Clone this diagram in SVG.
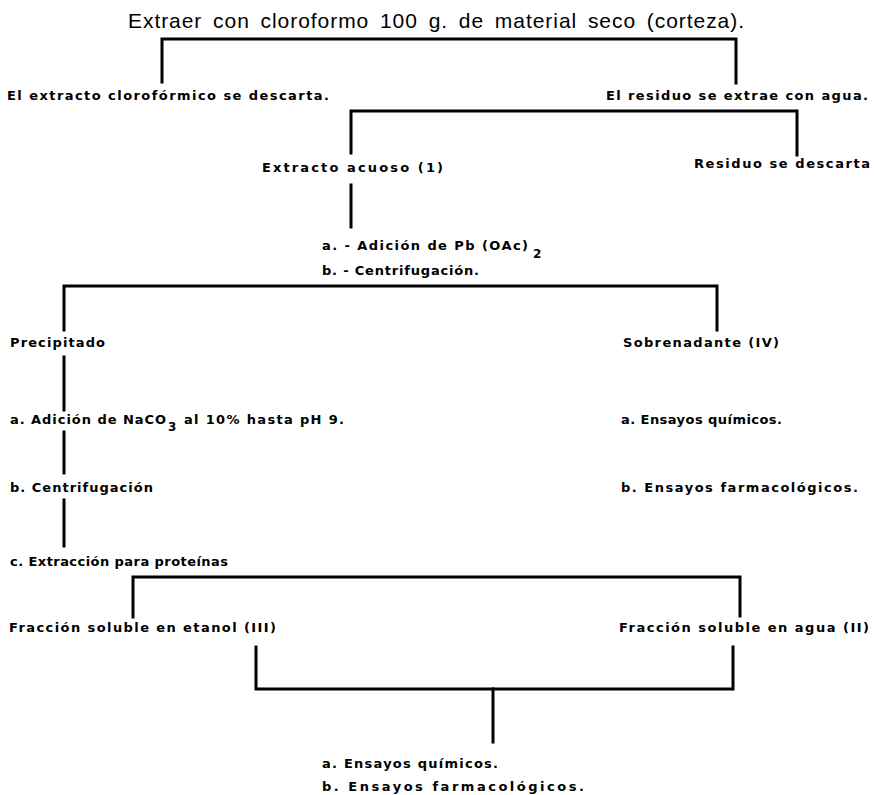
<svg xmlns="http://www.w3.org/2000/svg" width="874" height="795" viewBox="0 0 874 795">
<style>
.t{font-family:"DejaVu Sans","Liberation Sans",sans-serif;font-size:13px;font-weight:bold;fill:#000}
.title{font-family:"Liberation Sans",Arial,sans-serif;font-size:21px;word-spacing:4px;fill:#000}
.sub{font-family:"DejaVu Sans","Liberation Sans",sans-serif;font-size:12px;font-weight:bold;fill:#000}
.c{fill:none;stroke:#000;stroke-width:3;stroke-linecap:square;stroke-linejoin:miter}
</style>
<rect width="874" height="795" fill="#fff"/>
<g id="connectors">
<path class="c" d="M162,82 V39 H736 V83"/>
<path class="c" d="M351,153 V111 H797 V155"/>
<path class="c" d="M351,185 V227"/>
<path class="c" d="M64,330 V286 H717 V330"/>
<path class="c" d="M64,357 V410"/>
<path class="c" d="M64,432 V473"/>
<path class="c" d="M64,500 V546"/>
<path class="c" d="M133,617 V577 H740 V616"/>
<path class="c" d="M256,647 V689 H733 V647"/>
<path class="c" d="M493,689 V742"/>
</g>
<g id="n-title"><text class="title" x="128" y="28" textLength="616" lengthAdjust="spacing">Extraer con cloroformo 100 g. de material seco (corteza).</text></g>
<g id="n-cloro"><text class="t" x="7" y="100" textLength="322" lengthAdjust="spacing">El extracto clorofórmico se descarta.</text></g>
<g id="n-residuo-agua"><text class="t" x="606" y="100" textLength="262" lengthAdjust="spacing">El residuo se extrae con agua.</text></g>
<g id="n-extracto"><text class="t" x="262" y="172" textLength="181" lengthAdjust="spacing">Extracto acuoso (1)</text></g>
<g id="n-residuo-desc"><text class="t" x="694" y="168" textLength="176" lengthAdjust="spacing">Residuo se descarta</text></g>
<g id="n-pb"><text class="t" x="322" y="250" textLength="206" lengthAdjust="spacing">a. - Adición de Pb (OAc)</text><text class="sub" x="533" y="258">2</text>
<text class="t" x="322" y="275" textLength="157" lengthAdjust="spacing">b. - Centrifugación.</text></g>
<g id="n-precipitado"><text class="t" x="10" y="347" textLength="95" lengthAdjust="spacing">Precipitado</text></g>
<g id="n-sobrenadante"><text class="t" x="623" y="347" textLength="156" lengthAdjust="spacing">Sobrenadante (IV)</text></g>
<g id="n-naco"><text class="t" x="10" y="424" textLength="156" lengthAdjust="spacing">a. Adición de NaCO</text><text class="sub" x="168" y="431">3</text><text class="t" x="184" y="424" textLength="160" lengthAdjust="spacing">al 10% hasta pH 9.</text></g>
<g id="n-sob-a"><text class="t" x="621" y="424" textLength="161" lengthAdjust="spacing">a. Ensayos químicos.</text></g>
<g id="n-centri"><text class="t" x="10" y="492" textLength="143" lengthAdjust="spacing">b. Centrifugación</text></g>
<g id="n-sob-b"><text class="t" x="621" y="492" textLength="237" lengthAdjust="spacing">b. Ensayos farmacológicos.</text></g>
<g id="n-proteinas"><text class="t" x="10" y="566" textLength="218" lengthAdjust="spacing">c. Extracción para proteínas</text></g>
<g id="n-etanol"><text class="t" x="9" y="632" textLength="267" lengthAdjust="spacing">Fracción soluble en etanol (III)</text></g>
<g id="n-agua"><text class="t" x="619" y="632" textLength="250" lengthAdjust="spacing">Fracción soluble en agua (II)</text></g>
<g id="n-final"><text class="t" x="322" y="768" textLength="176" lengthAdjust="spacing">a. Ensayos químicos.</text>
<text class="t" x="322" y="791" textLength="262" lengthAdjust="spacing">b. Ensayos farmacológicos.</text></g>
</svg>
